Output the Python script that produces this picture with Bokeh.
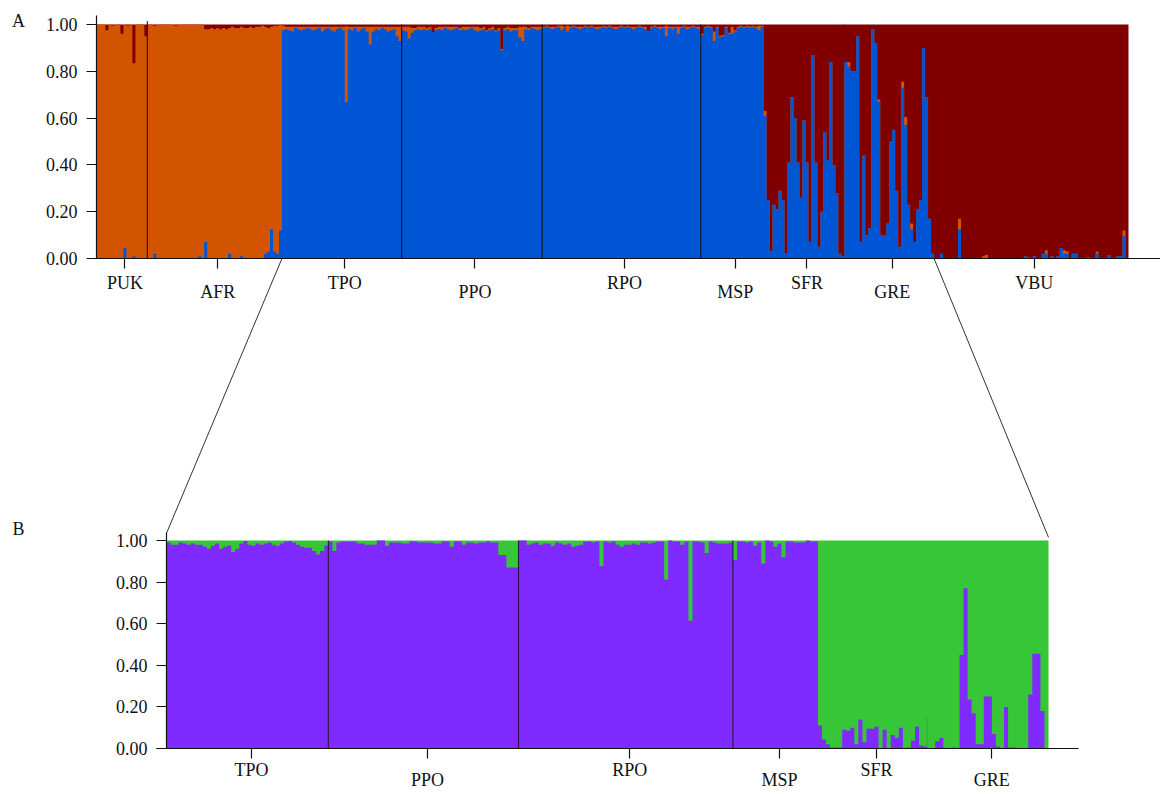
from bokeh.plotting import figure
from bokeh.models import (Range1d, LinearAxis, FixedTicker, NumeralTickFormatter,
                          ColumnDataSource)
from bokeh.core.properties import value
from bokeh.embed import file_html
from bokeh.resources import INLINE

# ---------------- DATA: panel A (K=3: blue, orange, dark red = remainder) ----------------
A_POPS = ["PUK", "AFR", "TPO", "PPO", "RPO", "MSP", "SFR", "GRE", "VBU"]

PUK_BLUE = [0, 0, 0, 0, 0, 0, 0, 0, 0, 0.045, 0, 0, 0.01, 0, 0, 0, 0]
PUK_ORANGE = [1.0, 1.0, 1.0, 0.975, 1.0, 0.995, 1.0, 1.0, 0.96, 0.955, 0.995, 1.0, 0.824, 1.0, 1.0, 1.0, 0.95]

AFR_BLUE = [0, 0, 0.02, 0, 0, 0, 0, 0, 0, 0,
            0, 0, 0, 0, 0, 0, 0, 0.01, 0, 0.07,
            0, 0, 0, 0, 0, 0, 0, 0.02, 0, 0,
            0, 0.01, 0, 0, 0, 0, 0, 0, 0, 0.02,
            0.03, 0.125, 0.03, 0.02, 0.12]
AFR_ORANGE = [1.0, 1.0, 0.975, 1.0, 1.0, 1.0, 1.0, 1.0, 1.0, 0.995,
              1.0, 1.0, 1.0, 1.0, 1.0, 1.0, 1.0, 0.99, 1.0, 0.91,
              0.98, 0.985, 0.98, 0.985, 0.98, 0.985, 0.98, 0.965, 0.99, 0.985,
              0.985, 0.98, 0.985, 0.985, 0.99, 0.985, 0.99, 0.99, 0.995, 0.97,
              0.955, 0.865, 0.965, 0.975, 0.88]

TPO_BLUE = [0.975, 0.98, 0.975, 0.97, 0.985, 0.98, 0.975, 0.98, 0.985, 0.98,
            0.975, 0.98, 0.985, 0.97, 0.98, 0.985, 0.975, 0.97, 0.98, 0.985,
            0.975, 0.668, 0.98, 0.975, 0.985, 0.97, 0.98, 0.985, 0.97, 0.915,
            0.97, 0.98, 0.975, 0.985, 0.98, 0.97, 0.975, 0.98, 0.95, 0.93]
TPO_ORANGE = [0.02, 0.01, 0.015, 0.02, 0.005, 0.01, 0.015, 0.01, 0.005, 0.01,
              0.015, 0.01, 0.005, 0.02, 0.01, 0.005, 0.015, 0.02, 0.01, 0.005,
              0.015, 0.325, 0.01, 0.015, 0.005, 0.02, 0.01, 0.005, 0.02, 0.075,
              0.02, 0.01, 0.015, 0.005, 0.01, 0.02, 0.015, 0.01, 0.04, 0.06]

PPO_BLUE = [0.975, 0.97, 0.94, 0.965, 0.975, 0.98, 0.975, 0.98, 0.975, 0.98,
            0.967, 0.975, 0.98, 0.975, 0.985, 0.98, 0.975, 0.98, 0.985, 0.975,
            0.98, 0.975, 0.98, 0.985, 0.975, 0.97, 0.975, 0.98, 0.97, 0.975,
            0.98, 0.97, 0.975, 0.89, 0.975, 0.98, 0.97, 0.975, 0.975, 0.945,
            0.93, 0.98, 0.975, 0.985, 0.98, 0.975, 0.98]
PPO_ORANGE = [0.015, 0.02, 0.05, 0.02, 0.01, 0.01, 0.015, 0.01, 0.01, 0.01,
              0.0, 0.01, 0.01, 0.015, 0.005, 0.01, 0.015, 0.01, 0.005, 0.01,
              0.01, 0.015, 0.01, 0.005, 0.015, 0.02, 0.01, 0.01, 0.005, 0.01,
              0.01, 0.005, 0.01, 0.005, 0.01, 0.01, 0.015, 0.01, 0.01, 0.045,
              0.06, 0.01, 0.01, 0.005, 0.01, 0.015, 0.01]

RPO_BLUE = [0.985, 0.99, 0.985, 0.98, 0.985, 0.99, 0.975, 0.985, 0.97, 0.985,
            0.99, 0.985, 0.98, 0.985, 0.99, 0.985, 0.99, 0.985, 0.98, 0.985,
            0.99, 0.985, 0.99, 0.985, 0.98, 0.985, 0.99, 0.985, 0.99, 0.985,
            0.98, 0.985, 0.99, 0.985, 0.98, 0.967, 0.985, 0.99, 0.985, 0.98,
            0.985, 0.95, 0.985, 0.98, 0.985, 0.96, 0.985, 0.99, 0.98, 0.985,
            0.99, 0.985, 0.98]
RPO_ORANGE = [0.005, 0.005, 0.005, 0.01, 0.005, 0.005, 0.02, 0.005, 0.025, 0.005,
              0.005, 0.005, 0.01, 0.005, 0.005, 0.005, 0.005, 0.005, 0.01, 0.005,
              0.005, 0.005, 0.005, 0.005, 0.01, 0.005, 0.005, 0.005, 0.005, 0.005,
              0.01, 0.005, 0.005, 0.005, 0.01, 0.003, 0.005, 0.005, 0.005, 0.01,
              0.005, 0.045, 0.005, 0.01, 0.005, 0.03, 0.005, 0.005, 0.01, 0.005,
              0.005, 0.005, 0.01]

MSP_BLUE = [0.955, 0.985, 0.99, 0.985, 0.93, 0.985, 0.947, 0.95, 0.985, 0.96,
            0.96, 0.97, 0.985, 0.99, 0.985, 0.99, 0.985, 0.99, 0.985, 0.975, 0.99]
MSP_ORANGE = [0.005, 0.005, 0.005, 0.005, 0.04, 0.005, 0.005, 0.005, 0.005, 0.005,
              0.03, 0.005, 0.005, 0.005, 0.005, 0.005, 0.005, 0.005, 0.005, 0.02, 0.005]

SFR_BLUE = [0.61, 0.25, 0.03, 0.23, 0.21, 0.29, 0.25, 0.02, 0.41, 0.69,
            0.60, 0.41, 0.26, 0.59, 0.41, 0.07, 0.87, 0.41, 0.05, 0.20,
            0.54, 0.42, 0.84, 0.40, 0.28, 0.02, 0.01]
SFR_ORANGE = [0.02, 0, 0, 0, 0, 0, 0, 0, 0, 0,
              0, 0, 0, 0, 0, 0, 0, 0, 0, 0,
              0, 0, 0, 0, 0, 0, 0]

GRE_BLUE = [0.84, 0.82, 0.80, 0.80, 0.95, 0.07, 0.44, 0.10, 0.13, 0.98,
            0.92, 0.67, 0.10, 0.10, 0.15, 0.50, 0.55, 0.29, 0.05, 0.73,
            0.57, 0.23, 0.125, 0.07, 0.21, 0.25, 0.90, 0.69, 0.17, 0.02]
GRE_ORANGE = [0, 0.02, 0, 0, 0, 0, 0, 0, 0, 0,
              0, 0.01, 0, 0, 0, 0, 0, 0, 0, 0.025,
              0.035, 0, 0.025, 0, 0, 0, 0, 0, 0, 0]

VBU_BLUE = [0, 0, 0.02, 0, 0, 0, 0, 0, 0.125, 0,
            0, 0, 0, 0, 0, 0, 0, 0, 0, 0,
            0, 0, 0, 0, 0, 0, 0, 0, 0, 0,
            0.01, 0.005, 0, 0.01, 0, 0, 0.02, 0.02, 0, 0.01,
            0, 0.01, 0.045, 0.02, 0.02, 0, 0.02, 0.02, 0, 0,
            0, 0.005, 0, 0, 0.02, 0, 0, 0, 0.015, 0,
            0, 0.01, 0.01, 0.095, 0]
VBU_ORANGE = [0, 0, 0, 0, 0, 0, 0, 0, 0.045, 0,
              0, 0, 0, 0, 0, 0, 0.01, 0.015, 0, 0,
              0, 0, 0, 0, 0, 0, 0, 0, 0, 0,
              0, 0, 0, 0, 0, 0, 0, 0.015, 0, 0,
              0, 0, 0, 0.015, 0.01, 0, 0, 0, 0, 0,
              0, 0, 0, 0, 0.01, 0, 0, 0, 0, 0,
              0, 0, 0, 0.025, 0]

# ---------------- DATA: panel B (K=2: purple, green = remainder) ----------------
B_POPS = ["TPO", "PPO", "RPO", "MSP", "SFR", "GRE"]

B_TPO_PURPLE = [0.99, 0.98, 0.98, 0.99, 0.985, 0.98, 0.985, 0.98, 0.98, 0.97,
                0.96, 0.975, 0.985, 0.96, 0.97, 0.975, 0.945, 0.96, 0.985, 0.997,
                0.98, 0.975, 0.985, 0.98, 0.985, 0.99, 0.98, 0.975, 0.985, 0.995,
                0.997, 0.99, 0.98, 0.97, 0.965, 0.965, 0.95, 0.933, 0.95, 0.975]
B_PPO_PURPLE = [0.995, 0.95, 0.99, 0.995, 0.995, 0.995, 0.995, 0.985, 0.985, 0.98,
                0.98, 0.98, 1.0, 1.0, 0.975, 0.99, 0.99, 0.99, 0.985, 0.985,
                0.995, 0.995, 0.99, 0.99, 0.99, 0.99, 0.985, 0.985, 0.995, 0.995,
                0.97, 0.995, 0.995, 0.98, 0.99, 0.99, 0.985, 0.99, 0.99, 0.995,
                0.99, 0.99, 0.93, 0.93, 0.87, 0.87, 0.87]
B_RPO_PURPLE = [1.0, 1.0, 0.98, 0.985, 0.99, 0.98, 0.985, 0.985, 0.975, 0.99,
                0.985, 0.98, 0.985, 0.97, 0.975, 0.98, 0.995, 0.995, 0.99, 0.995,
                0.877, 0.995, 0.99, 0.995, 0.98, 0.97, 0.98, 0.98, 0.985, 0.98,
                0.99, 0.99, 0.985, 0.99, 0.995, 0.995, 0.813, 1.0, 0.995, 0.995,
                0.98, 0.995, 0.614, 0.995, 0.995, 0.99, 0.94, 0.995, 0.99, 0.985,
                0.985, 0.985, 0.99]
B_MSP_PURPLE = [0.905, 0.995, 0.995, 0.99, 0.995, 0.975, 0.99, 0.89, 1.0, 0.995,
                0.97, 0.985, 0.92, 0.995, 0.995, 0.99, 0.99, 0.99, 1.0, 0.995, 0.995]
B_SFR_PURPLE = [0.11, 0.043, 0.02, 0.005, 0.005, 0.005, 0.09, 0.085, 0.10, 0.02,
                0.14, 0.03, 0.095, 0.095, 0.105, 0.0, 0.09, 0.0, 0.065, 0.05,
                0.10, 0.0, 0.005, 0.037, 0.105, 0.015, 0.01]
B_GRE_PURPLE = [0.0, 0.0, 0.035, 0.05, 0.0, 0.0, 0.005, 0.0, 0.45, 0.77,
                0.235, 0.17, 0.02, 0.02, 0.25, 0.25, 0.07, 0.01, 0.0, 0.20,
                0.005, 0.005, 0.0, 0.0, 0.0, 0.26, 0.455, 0.455, 0.18, 0.0]

Y_TICKS = [0.0, 0.2, 0.4, 0.6, 0.8, 1.0]

# ---------------- STYLE / LAYOUT ----------------
BLUE, ORANGE, DARKRED = "#0055D4", "#D35400", "#800000"
PURPLE, GREEN = "#7F2AFF", "#37C637"
FONT = "Liberation Serif"
FS = "18px"
W, H = 1160, 792          # canvas, drawn at the page's top-left
A_X = (96, 1128); A_Y = (258, 24)      # page px of idx 0 / idx N, value 0 / value 1
B_X = (166, 1048); B_Y = (748, 540)

a_blue_groups = [PUK_BLUE, AFR_BLUE, TPO_BLUE, PPO_BLUE, RPO_BLUE, MSP_BLUE, SFR_BLUE, GRE_BLUE, VBU_BLUE]
a_orange_groups = [PUK_ORANGE, AFR_ORANGE, TPO_ORANGE, PPO_ORANGE, RPO_ORANGE, MSP_ORANGE, SFR_ORANGE, GRE_ORANGE, VBU_ORANGE]
b_groups = [B_TPO_PURPLE, B_PPO_PURPLE, B_RPO_PURPLE, B_MSP_PURPLE, B_SFR_PURPLE, B_GRE_PURPLE]

a_counts = [len(g) for g in a_blue_groups]
b_counts = [len(g) for g in b_groups]
NA, NB = sum(a_counts), sum(b_counts)


def cum(counts):
    out, s = [0], 0
    for c in counts:
        s += c
        out.append(s)
    return out


a_edges, b_edges = cum(a_counts), cum(b_counts)


def make_range(p0, v0, p1, v1, length):
    s = (v1 - v0) / (p1 - p0)
    return Range1d(start=v0 - p0 * s, end=v0 + (length - p0) * s)


xa = make_range(A_X[0], 0, A_X[1], NA, W)
ya = make_range(H - A_Y[0], 0, H - A_Y[1], 1, H)
xb = make_range(B_X[0], 0, B_X[1], NB, W)
yb = make_range(H - B_Y[0], 0, H - B_Y[1], 1, H)


def to_page_x(r, v):
    return (v - r.start) / (r.end - r.start) * W


def to_page_y(r, v):
    return H - (v - r.start) / (r.end - r.start) * H


def from_page_x(r, X):
    return r.start + X / W * (r.end - r.start)


def from_page_y(r, Y):
    return r.start + (H - Y) / H * (r.end - r.start)


p = figure(width=W, height=H, x_range=xa, y_range=ya, output_backend="svg",
           toolbar_location=None, min_border=0, x_axis_type=None, y_axis_type=None,
           title=None)
p.extra_x_ranges = {"xb": xb}
p.extra_y_ranges = {"yb": yb}
p.outline_line_color = None
p.background_fill_color = "white"
p.border_fill_color = "white"

# ---- panel A: stacked membership drawn as step areas (one bar per individual) ----
a_blue = sum(a_blue_groups, [])
a_orange = sum(a_orange_groups, [])
a_bo = [min(1.0, b + o) for b, o in zip(a_blue, a_orange)]
xs_a = list(range(NA + 1))
src_a = ColumnDataSource(dict(x=xs_a, zero=[0] * (NA + 1), one=[1] * (NA + 1),
                              bo=a_bo + a_bo[-1:], b=a_blue + a_blue[-1:]))
p.varea_step(x="x", y1="zero", y2="one", step_mode="after", fill_color=DARKRED, source=src_a)
p.varea_step(x="x", y1="zero", y2="bo", step_mode="after", fill_color=ORANGE, source=src_a)
p.varea_step(x="x", y1="zero", y2="b", step_mode="after", fill_color=BLUE, source=src_a)

# ---- panel B ----
b_purple = sum(b_groups, [])
xs_b = list(range(NB + 1))
src_b = ColumnDataSource(dict(x=xs_b, zero=[0] * (NB + 1), one=[1] * (NB + 1),
                              pu=b_purple + b_purple[-1:]))
p.varea_step(x="x", y1="zero", y2="one", step_mode="after", fill_color=GREEN, source=src_b,
             x_range_name="xb", y_range_name="yb")
p.varea_step(x="x", y1="zero", y2="pu", step_mode="after", fill_color=PURPLE, source=src_b,
             x_range_name="xb", y_range_name="yb")

# ---- population boundary lines ----
a_lines = [a_edges[1], a_edges[3], a_edges[4], a_edges[5]]
p.segment(x0=a_lines, y0=[0] * len(a_lines), x1=a_lines, y1=[1.015, 1, 1, 1],
          line_color="#111111", line_width=1.2, line_alpha=0.85)
p.segment(x0=[a_edges[7]], y0=[0.985], x1=[a_edges[7]], y1=[1.0],
          line_color="#111111", line_width=1.0, line_alpha=0.6)
b_lines = [b_edges[1], b_edges[2], b_edges[3]]
p.segment(x0=b_lines, y0=[0] * len(b_lines), x1=b_lines, y1=[1] * len(b_lines),
          line_color="#111111", line_width=1.1, line_alpha=0.8,
          x_range_name="xb", y_range_name="yb")
p.segment(x0=[b_edges[5]], y0=[0], x1=[b_edges[5]], y1=[0.15],
          line_color="#555555", line_width=0.8, line_alpha=0.35,
          x_range_name="xb", y_range_name="yb")

# ---- connector lines (zoom from A to B) ----
bl_x = from_page_x(xa, to_page_x(xb, 0)); bl_y = from_page_y(ya, to_page_y(yb, 1.035))
br_x = from_page_x(xa, to_page_x(xb, NB)); br_y = from_page_y(ya, to_page_y(yb, 1.015))
p.segment(x0=[a_edges[2], a_edges[8]], y0=[0, 0], x1=[bl_x, br_x], y1=[bl_y, br_y],
          line_color="#333333", line_width=1)


# ---- axes ----
def style_axis(ax):
    ax.axis_line_color = "#111111"
    ax.axis_line_width = 1.2
    ax.major_tick_line_color = "#111111"
    ax.major_tick_line_width = 1.2
    ax.major_tick_out = 10
    ax.major_tick_in = 0
    ax.minor_tick_out = 0
    ax.minor_tick_in = 0
    ax.major_label_text_font = FONT
    ax.major_label_text_font_size = FS
    ax.major_label_text_color = "#111111"


def y_axis(xr, yr):
    ax = LinearAxis(ticker=FixedTicker(ticks=Y_TICKS), formatter=NumeralTickFormatter(format="0.00"),
                    fixed_location=0, bounds=(0, 1.04), x_range_name=xr, y_range_name=yr)
    style_axis(ax)
    ax.major_label_standoff = 9
    p.add_layout(ax, "left")


def x_axis(xr, yr, ticks, lo, hi):
    ax = LinearAxis(ticker=FixedTicker(ticks=ticks), fixed_location=0, bounds=(lo, hi),
                    x_range_name=xr, y_range_name=yr)
    style_axis(ax)
    ax.major_label_text_alpha = 0
    p.add_layout(ax, "below")


a_ticks = [(a_edges[k] + a_edges[k + 1]) / 2 + 1 for k in range(len(A_POPS))]
b_ticks = [(b_edges[k] + b_edges[k + 1]) / 2 + 1 for k in range(len(B_POPS))]

y_axis("default", "default")
y_axis("xb", "yb")
x_axis("default", "default", a_ticks, from_page_x(xa, 87), from_page_x(xa, 1160))
x_axis("xb", "yb", b_ticks, from_page_x(xb, 156), from_page_x(xb, 1078))

# ---- population labels (alternating rows) ----
a_row = [24, 33]
b_row = [21, 31]
la = dict(x=a_ticks, y=[from_page_y(ya, A_Y[0] + a_row[k % 2]) for k in range(len(A_POPS))], t=A_POPS)
lb = dict(x=b_ticks, y=[from_page_y(yb, B_Y[0] + b_row[k % 2]) for k in range(len(B_POPS))], t=B_POPS)
p.text(x="x", y="y", text="t", source=ColumnDataSource(la), text_font=value(FONT),
       text_font_size=FS, text_align="center", text_baseline="middle", text_color="#111111")
p.text(x="x", y="y", text="t", source=ColumnDataSource(lb), text_font=value(FONT),
       text_font_size=FS, text_align="center", text_baseline="middle", text_color="#111111",
       x_range_name="xb", y_range_name="yb")

# ---- panel letters ----
p.text(x=[from_page_x(xa, 18), from_page_x(xa, 18)],
       y=[from_page_y(ya, 20), from_page_y(ya, 528)], text=["A", "B"],
       text_font=value(FONT), text_font_size=FS, text_align="center",
       text_baseline="middle", text_color="#111111")

open("out.html", "w").write(file_html(p, INLINE))
